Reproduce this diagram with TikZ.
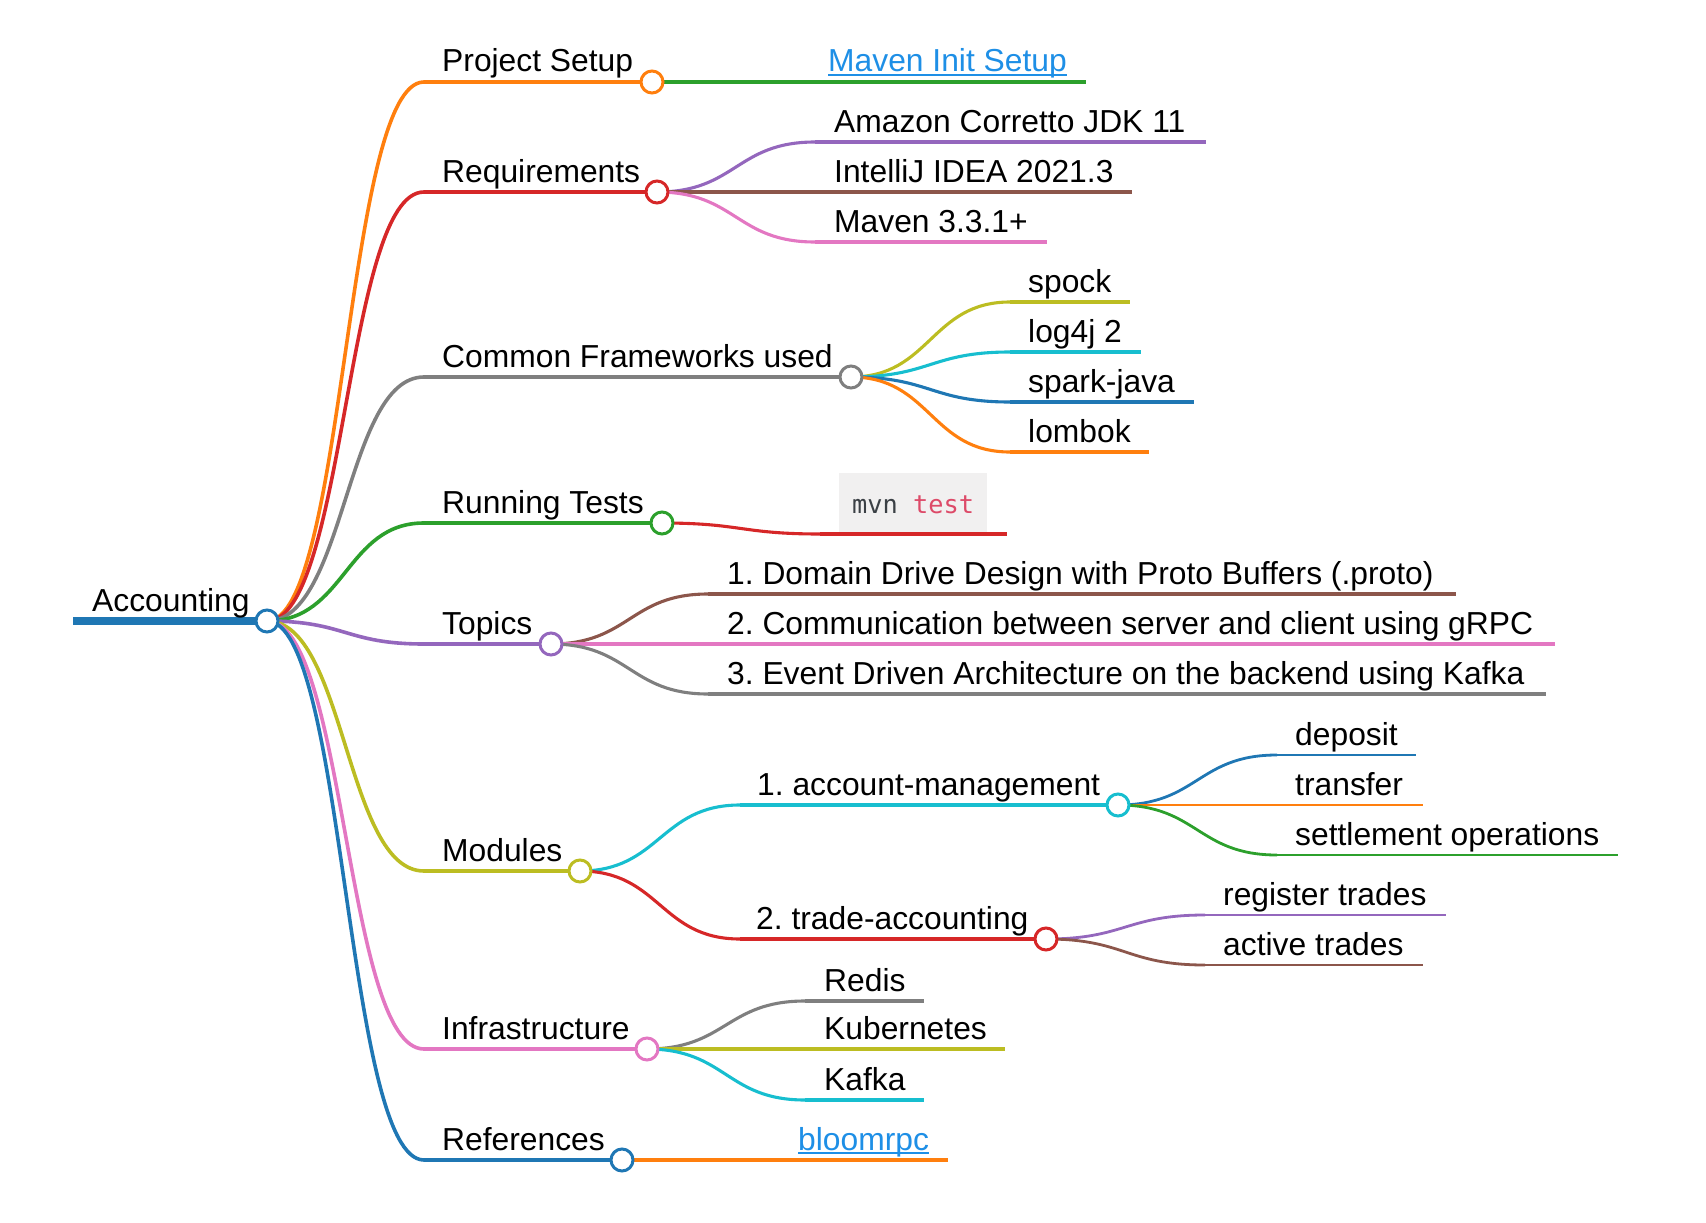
\documentclass[tikz,border=0pt]{standalone}
\usepackage{fontspec}
\setmainfont{Liberation Sans}
\newfontfamily\codefont{DejaVu Sans Mono}
\usetikzlibrary{calc}
\frenchspacing
\definecolor{mblue}{HTML}{1F77B4}
\definecolor{morange}{HTML}{FF7F0E}
\definecolor{mgreen}{HTML}{2CA02C}
\definecolor{mred}{HTML}{D62728}
\definecolor{mpurple}{HTML}{9467BD}
\definecolor{mbrown}{HTML}{8C564B}
\definecolor{mpink}{HTML}{E377C2}
\definecolor{mgray}{HTML}{7F7F7F}
\definecolor{molive}{HTML}{BCBD22}
\definecolor{mcyan}{HTML}{17BECF}
\definecolor{hlink}{HTML}{1E8FE6}
\definecolor{codebg}{HTML}{F1F0F0}
\definecolor{codefg}{HTML}{3B4045}
\definecolor{codekw}{HTML}{DD4A68}
\tikzset{
  lbl/.style={anchor=base west, inner sep=0pt, font=\fontsize{31.8}{38}\selectfont},
  dot/.style={circle, draw=#1, fill=white, line width=3pt, minimum size=22pt, inner sep=0pt},
  lone/.style={line width=3.6pt},
  ltwo/.style={line width=3.1pt},
  lthree/.style={line width=2.8pt},
}
\newcommand{\mmlink}[4]{\draw[#3,#4] let \p1=(#1), \p2=(#2) in (\p1) .. controls ({0.5*\x1+0.5*\x2},\y1) and ({0.5*\x1+0.5*\x2},\y2) .. (\p2);}
\newcommand{\branch}[5]{\mmlink{#1}{#2}{#4}{#5}\draw[#4,#5] (#2) -- (#3);}
\begin{document}
\begin{tikzpicture}[x=1pt,y=-1pt]
\useasboundingbox (0,0) rectangle (1706,1223);
% coordinates
\coordinate (root-l) at (73,621); \coordinate (root) at (267,621);
\coordinate (ps-l) at (424,82);   \coordinate (ps) at (652,82);
\coordinate (rq-l) at (424,192);  \coordinate (rq) at (657,192);
\coordinate (cf-l) at (424,377);  \coordinate (cf) at (851,377);
\coordinate (rt-l) at (424,523);  \coordinate (rt) at (662,523);
\coordinate (tp-l) at (424,644);  \coordinate (tp) at (551,644);
\coordinate (md-l) at (424,871);  \coordinate (md) at (580,871);
\coordinate (in-l) at (424,1049); \coordinate (in) at (647,1049);
\coordinate (rf-l) at (424,1160); \coordinate (rf) at (622,1160);
\coordinate (mis-l) at (810,82);  \coordinate (mis-e) at (1086,82);
\coordinate (am-l) at (815,142);  \coordinate (am-e) at (1206,142);
\coordinate (ij-l) at (815,192);  \coordinate (ij-e) at (1132,192);
\coordinate (mv-l) at (815,242);  \coordinate (mv-e) at (1047,242);
\coordinate (sp-l) at (1010,302); \coordinate (sp-e) at (1130,302);
\coordinate (lg-l) at (1010,352); \coordinate (lg-e) at (1141,352);
\coordinate (sj-l) at (1010,402); \coordinate (sj-e) at (1194,402);
\coordinate (lb-l) at (1010,452); \coordinate (lb-e) at (1149,452);
\coordinate (mt-l) at (820,534);  \coordinate (mt-e) at (1007,534);
\coordinate (d1-l) at (708,594);  \coordinate (d1-e) at (1456,594);
\coordinate (d2-l) at (708,644);  \coordinate (d2-e) at (1555,644);
\coordinate (d3-l) at (708,694);  \coordinate (d3-e) at (1546,694);
\coordinate (ac-l) at (740,805);  \coordinate (ac) at (1118,805);
\coordinate (ta-l) at (740,939);  \coordinate (ta) at (1046,939);
\coordinate (rd-l) at (805,1001); \coordinate (rd-e) at (924,1001);
\coordinate (kb-l) at (805,1049); \coordinate (kb-e) at (1005,1049);
\coordinate (kf-l) at (805,1100); \coordinate (kf-e) at (924,1100);
\coordinate (bl-l) at (780,1160); \coordinate (bl-e) at (948,1160);
\coordinate (dp-l) at (1277,755); \coordinate (dp-e) at (1416,755);
\coordinate (tr-l) at (1277,805); \coordinate (tr-e) at (1423,805);
\coordinate (so-l) at (1277,855); \coordinate (so-e) at (1618,855);
\coordinate (rg-l) at (1205,915); \coordinate (rg-e) at (1446,915);
\coordinate (at-l) at (1205,965); \coordinate (at-e) at (1423,965);
% level 3
\branch{ac}{dp-l}{dp-e}{mblue}{lthree}
\branch{ac}{tr-l}{tr-e}{morange}{lthree}
\branch{ac}{so-l}{so-e}{mgreen}{lthree}
\branch{ta}{rg-l}{rg-e}{mpurple}{lthree}
\branch{ta}{at-l}{at-e}{mbrown}{lthree}
% level 2
\branch{ps}{mis-l}{mis-e}{mgreen}{ltwo}
\branch{rq}{am-l}{am-e}{mpurple}{ltwo}
\branch{rq}{ij-l}{ij-e}{mbrown}{ltwo}
\branch{rq}{mv-l}{mv-e}{mpink}{ltwo}
\branch{cf}{sp-l}{sp-e}{molive}{ltwo}
\branch{cf}{lg-l}{lg-e}{mcyan}{ltwo}
\branch{cf}{sj-l}{sj-e}{mblue}{ltwo}
\branch{cf}{lb-l}{lb-e}{morange}{ltwo}
\branch{rt}{mt-l}{mt-e}{mred}{ltwo}
\branch{tp}{d1-l}{d1-e}{mbrown}{ltwo}
\branch{tp}{d2-l}{d2-e}{mpink}{ltwo}
\branch{tp}{d3-l}{d3-e}{mgray}{ltwo}
\branch{md}{ac-l}{ac}{mcyan}{ltwo}
\branch{md}{ta-l}{ta}{mred}{ltwo}
\branch{in}{rd-l}{rd-e}{mgray}{ltwo}
\branch{in}{kb-l}{kb-e}{molive}{ltwo}
\branch{in}{kf-l}{kf-e}{mcyan}{ltwo}
\branch{rf}{bl-l}{bl-e}{morange}{ltwo}
% level 1
\branch{root}{ps-l}{ps}{morange}{lone}
\branch{root}{rq-l}{rq}{mred}{lone}
\branch{root}{cf-l}{cf}{mgray}{lone}
\branch{root}{rt-l}{rt}{mgreen}{lone}
\branch{root}{tp-l}{tp}{mpurple}{lone}
\branch{root}{md-l}{md}{molive}{lone}
\branch{root}{in-l}{in}{mpink}{lone}
\branch{root}{rf-l}{rf}{mblue}{lone}
\draw[mblue, line width=8pt] (root-l) -- (root);
% texts
\node[lbl] (t-root) at (92,611) {Accounting};
\node[lbl] (t-ps) at (442,72) {Project Setup};
\node[lbl] (t-rq) at (442,182) {Requirements};
\node[lbl] (t-cf) at (442,367) {Common Frameworks used};
\node[lbl] (t-rt) at (442,513) {Running Tests};
\node[lbl] (t-tp) at (442,634) {Topics};
\node[lbl] (t-md) at (442,861) {Modules};
\node[lbl] (t-in) at (442,1039) {Infrastructure};
\node[lbl] (t-rf) at (442,1150) {References};
\node[lbl, text=hlink] (t-mis) at (828,72) {Maven Init Setup};
\draw[hlink, line width=2pt] ([yshift=-3pt]t-mis.base west) -- ([yshift=-3pt]t-mis.base east);
\node[lbl] (t-am) at (834,132) {Amazon Corretto JDK 11};
\node[lbl] (t-ij) at (834,182) {IntelliJ IDEA 2021.3};
\node[lbl] (t-mv) at (834,232) {Maven 3.3.1+};
\node[lbl] (t-sp) at (1028,292) {spock};
\node[lbl] (t-lg) at (1028,342) {log4j 2};
\node[lbl] (t-sj) at (1028,392) {spark-java};
\node[lbl] (t-lb) at (1028,442) {lombok};
\fill[codebg] (839,473) rectangle (987,532);
\node[anchor=base west, inner sep=0pt, font=\codefont\fontsize{25.3}{30}\selectfont] (t-mt) at (852,513) {\textcolor{codefg}{mvn} \textcolor{codekw}{test}};
\node[lbl] (t-d1) at (727,584) {1. Domain Drive Design with Proto Buffers (.proto)};
\node[lbl] (t-d2) at (727,634) {2. Communication between server and client using gRPC};
\node[lbl] (t-d3) at (727,684) {3. Event Driven Architecture on the backend using Kafka};
\node[lbl] (t-ac) at (757,795) {1. account-management};
\node[lbl] (t-ta) at (756,929) {2. trade-accounting};
\node[lbl] (t-dp) at (1295,745) {deposit};
\node[lbl] (t-tr) at (1295,795) {transfer};
\node[lbl] (t-so) at (1295,845) {settlement operations};
\node[lbl] (t-rg) at (1223,905) {register trades};
\node[lbl] (t-at) at (1223,955) {active trades};
\node[lbl] (t-rd) at (824,991) {Redis};
\node[lbl] (t-kb) at (824,1039) {Kubernetes};
\node[lbl] (t-kf) at (824,1090) {Kafka};
\node[lbl, text=hlink] (t-bl) at (798,1150) {bloomrpc};
\draw[hlink, line width=2pt] ([yshift=-3pt]t-bl.base west) -- ([yshift=-3pt]t-bl.base east);
% circles
\node[dot=mblue] (c-root) at (root) {};
\node[dot=morange] (c-ps) at (ps) {};
\node[dot=mred] (c-rq) at (rq) {};
\node[dot=mgray] (c-cf) at (cf) {};
\node[dot=mgreen] (c-rt) at (rt) {};
\node[dot=mpurple] (c-tp) at (tp) {};
\node[dot=molive] (c-md) at (md) {};
\node[dot=mpink] (c-in) at (in) {};
\node[dot=mblue] (c-rf) at (rf) {};
\node[dot=mcyan] (c-ac) at (ac) {};
\node[dot=mred] (c-ta) at (ta) {};
\end{tikzpicture}
\end{document}
